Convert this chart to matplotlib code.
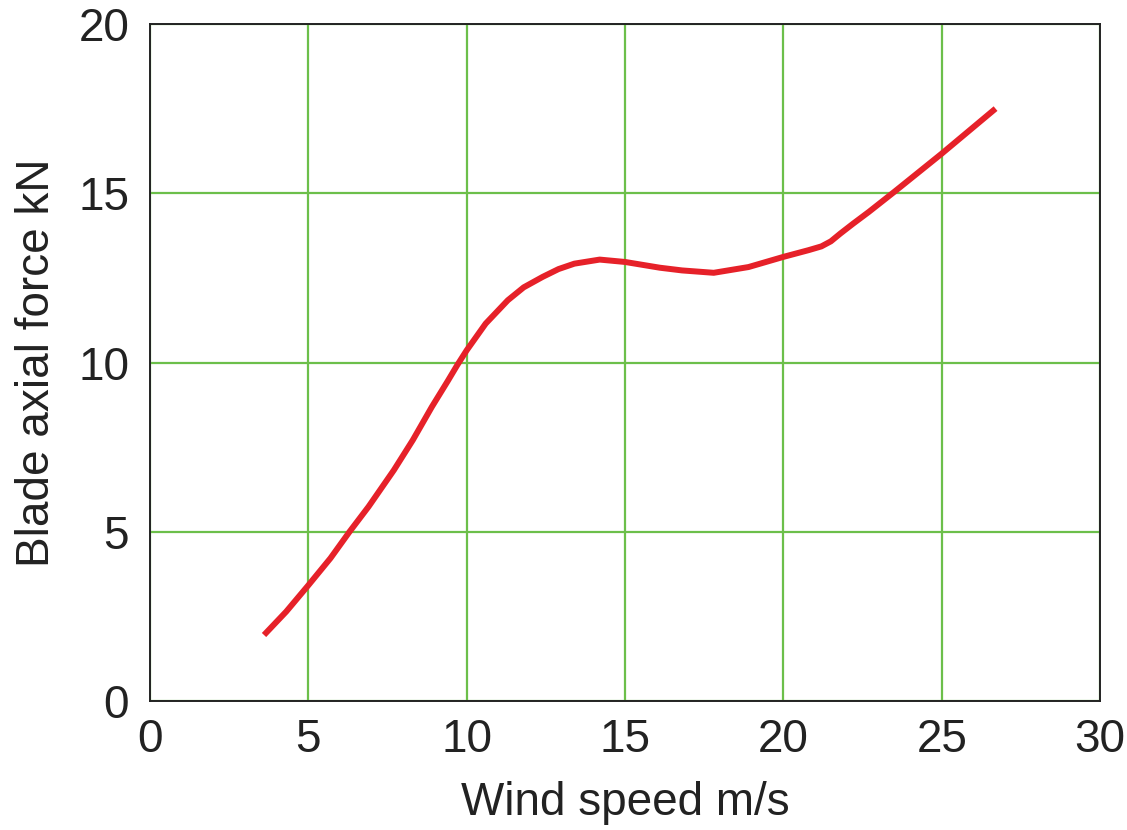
"""
Blade axial force vs wind speed
"""

import matplotlib
matplotlib.use('Agg')
import matplotlib.pyplot as plt

# values
wind_speed = [3.6, 4.3, 5.0, 5.7, 6.3, 6.9, 7.7, 8.3, 8.9, 9.4, 9.7, 10.0, 10.6,
              11.3, 11.8, 12.4, 12.9, 13.4, 14.2, 15.0, 16.1, 16.8, 17.8, 18.9,
              20.0, 20.8, 21.2, 21.5, 21.8, 22.2, 22.7, 23.5, 25.0, 26.7]
axial_force = [1.95, 2.64, 3.42, 4.22, 5.0, 5.74, 6.82, 7.71, 8.69, 9.45, 9.92, 10.36, 11.15,
               11.84, 12.22, 12.53, 12.76, 12.92, 13.04, 12.97, 12.80, 12.72, 12.65, 12.82,
               13.12, 13.32, 13.43, 13.58, 13.81, 14.10, 14.45, 15.04, 16.17, 17.5]

x_ticks = [0, 5, 10, 15, 20, 25, 30]
y_ticks = [0, 5, 10, 15, 20]

plt.rcParams['font.family'] = ['Liberation Sans', 'DejaVu Sans']

fig = plt.figure(figsize=(11.27, 8.30), dpi=100)
ax = fig.add_axes([0.1331, 0.1554, 0.8430, 0.8157])

ax.plot(wind_speed, axial_force, color='#e62129', linewidth=4.3,
        solid_capstyle='butt', solid_joinstyle='round', zorder=3)

ax.set_xlim(0, 30)
ax.set_ylim(0, 20)
ax.set_xticks(x_ticks)
ax.set_yticks(y_ticks)
ax.grid(True, color='#6cbf4a', linewidth=1.6)
ax.set_axisbelow(True)

ax.tick_params(axis='both', length=0, labelsize=33, colors='#222222')
ax.tick_params(axis='x', pad=12)
ax.tick_params(axis='y', pad=15)

for spine in ax.spines.values():
    spine.set_color('#222222')
    spine.set_linewidth(1.4)

ax.set_xlabel('Wind speed m/s', fontsize=33, color='#222222', labelpad=14)
ax.set_ylabel('Blade axial force kN', fontsize=33, color='#222222', labelpad=14)

fig.savefig('out.png', dpi=100)
